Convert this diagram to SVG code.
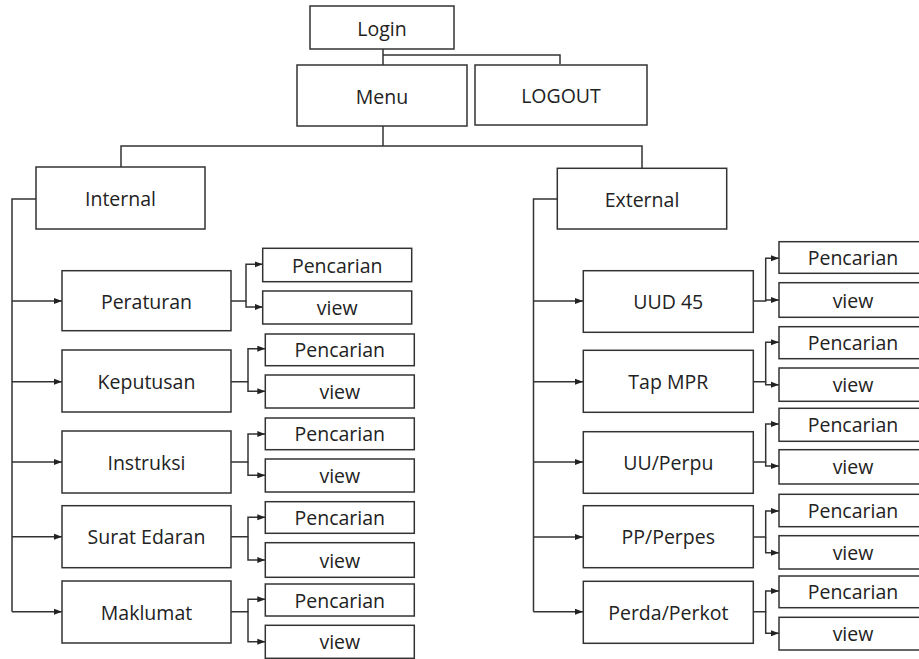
<svg xmlns="http://www.w3.org/2000/svg" width="919" height="659" viewBox="0 0 919 659">
<style>
rect{fill:#fff;stroke:#333;stroke-width:1.5}
text{font-family:"Open Sans","Liberation Sans",sans-serif;font-size:19.5px;fill:#222;text-anchor:middle;dominant-baseline:central}
.c path{fill:none;stroke:#333;stroke-width:1.5}
.c path.a{marker-end:url(#ah)}
</style>
<defs>
<marker id="ah" viewBox="0 0 8 8" refX="8" refY="4" markerWidth="8" markerHeight="8" markerUnits="userSpaceOnUse" orient="auto">
<path d="M0,1 L8,4 L0,7 Z" fill="#222"/>
</marker>
</defs>
<g class="c" id="connectors">
<path d="M383,49 V65"/>
<path d="M383,55 H560 V64"/>
<path d="M383,126 V146"/>
<path d="M121,167 V146 H642 V168"/>
<path d="M36,199 H12 V611.7"/>
<path d="M557,199 H533.5 V611.7"/>
<path class="a" d="M12,301 H62"/>
<path class="a" d="M12,381.7 H62"/>
<path class="a" d="M12,462 H62"/>
<path class="a" d="M12,536.7 H62"/>
<path class="a" d="M12,611.7 H62"/>
<path class="a" d="M533.5,301 H583"/>
<path class="a" d="M533.5,381.7 H583"/>
<path class="a" d="M533.5,462 H583"/>
<path class="a" d="M533.5,537 H583"/>
<path class="a" d="M533.5,611.7 H583"/>
<path class="a" d="M231,301 H246 V264.3 H262.7"/>
<path class="a" d="M246,301 V307 H262.7"/>
<path class="a" d="M231,381.7 H248 V348.7 H265.3"/>
<path class="a" d="M248,381.7 V391.3 H265.3"/>
<path class="a" d="M231,462 H248 V434 H265.3"/>
<path class="a" d="M248,462 V475.3 H265.3"/>
<path class="a" d="M231,536.7 H248 V517.3 H265.3"/>
<path class="a" d="M248,536.7 V560 H265.3"/>
<path class="a" d="M231,611.7 H248 V599.3 H265.3"/>
<path class="a" d="M248,611.7 V641.7 H265.3"/>
<path class="a" d="M753.3,301 H765.7 V258.3 H779"/>
<path class="a" d="M765.7,301 V300 H779"/>
<path class="a" d="M753.3,381.7 H765.7 V342.3 H779"/>
<path class="a" d="M765.7,381.7 V384.7 H779"/>
<path class="a" d="M753.3,462 H765.7 V424 H779"/>
<path class="a" d="M765.7,462 V466 H779"/>
<path class="a" d="M753.3,537 H765.7 V511 H779"/>
<path class="a" d="M765.7,537 V552.7 H779"/>
<path class="a" d="M753.3,611.7 H765.7 V591 H779"/>
<path class="a" d="M765.7,611.7 V633.3 H779"/>
</g>
<g id="login"><rect x="310" y="6" width="144" height="43"/><text x="382" y="28">Login</text></g>
<g id="menu"><rect x="297" y="65" width="170" height="61"/><text x="382" y="96">Menu</text></g>
<g id="logout"><rect x="475" y="65" width="172" height="60"/><text x="561" y="95">LOGOUT</text></g>
<g id="internal"><rect x="36" y="167" width="169" height="62"/><text x="120.5" y="198">Internal</text></g>
<g id="external"><rect x="557.3" y="168.3" width="169.4" height="60.7"/><text x="642" y="199">External</text></g>

<g id="peraturan"><rect x="62" y="270.7" width="169" height="60"/><text x="146.5" y="301">Peraturan</text></g>
<g id="keputusan"><rect x="62" y="350" width="169" height="62"/><text x="146.5" y="381">Keputusan</text></g>
<g id="instruksi"><rect x="62" y="431" width="169" height="62"/><text x="146.5" y="462">Instruksi</text></g>
<g id="surat-edaran"><rect x="62" y="505.7" width="169" height="62"/><text x="146.5" y="536.7">Surat Edaran</text></g>
<g id="maklumat"><rect x="62" y="581" width="169" height="62"/><text x="146.5" y="612">Maklumat</text></g>

<g id="peraturan-pencarian"><rect x="262.7" y="248.3" width="149" height="33.4"/><text x="337.2" y="265">Pencarian</text></g>
<g id="peraturan-view"><rect x="262.7" y="291" width="149" height="33"/><text x="337.2" y="307.5">view</text></g>
<g id="keputusan-pencarian"><rect x="265.3" y="334" width="149" height="31.7"/><text x="339.8" y="349.8">Pencarian</text></g>
<g id="keputusan-view"><rect x="265.3" y="375" width="149" height="33"/><text x="339.8" y="391.5">view</text></g>
<g id="instruksi-pencarian"><rect x="265.3" y="418" width="149" height="31.7"/><text x="339.8" y="433.8">Pencarian</text></g>
<g id="instruksi-view"><rect x="265.3" y="459" width="149" height="33"/><text x="339.8" y="475.5">view</text></g>
<g id="surat-edaran-pencarian"><rect x="265.3" y="501.7" width="149" height="31.6"/><text x="339.8" y="517.5">Pencarian</text></g>
<g id="surat-edaran-view"><rect x="265.3" y="542.7" width="149" height="34.6"/><text x="339.8" y="560">view</text></g>
<g id="maklumat-pencarian"><rect x="265.3" y="584" width="149" height="32"/><text x="339.8" y="600">Pencarian</text></g>
<g id="maklumat-view"><rect x="265.3" y="625.3" width="149" height="33"/><text x="339.8" y="641.8">view</text></g>

<g id="uud45"><rect x="583.3" y="270.7" width="170" height="61.6"/><text x="668.3" y="301.5">UUD 45</text></g>
<g id="tap-mpr"><rect x="583.3" y="350.3" width="170" height="62"/><text x="668.3" y="381.3">Tap MPR</text></g>
<g id="uu-perpu"><rect x="583.3" y="431.7" width="170" height="61.6"/><text x="668.3" y="462.5">UU/Perpu</text></g>
<g id="pp-perpes"><rect x="583.3" y="505.7" width="170" height="62"/><text x="668.3" y="536.7">PP/Perpes</text></g>
<g id="perda-perkot"><rect x="583.3" y="581.3" width="170" height="62"/><text x="668.3" y="612.3">Perda/Perkot</text></g>

<g id="uud45-pencarian"><rect x="779" y="241.7" width="148" height="31.6"/><text x="853" y="257.5">Pencarian</text></g>
<g id="uud45-view"><rect x="779" y="282.7" width="148" height="34.6"/><text x="853" y="300">view</text></g>
<g id="tap-mpr-pencarian"><rect x="779" y="326.7" width="148" height="32"/><text x="853" y="342.7">Pencarian</text></g>
<g id="tap-mpr-view"><rect x="779" y="368" width="148" height="33.3"/><text x="853" y="384.7">view</text></g>
<g id="uu-perpu-pencarian"><rect x="779" y="408.3" width="148" height="33"/><text x="853" y="424.8">Pencarian</text></g>
<g id="uu-perpu-view"><rect x="779" y="449.7" width="148" height="34.3"/><text x="853" y="466.8">view</text></g>
<g id="pp-perpes-pencarian"><rect x="779" y="494.3" width="148" height="32.4"/><text x="853" y="510.5">Pencarian</text></g>
<g id="pp-perpes-view"><rect x="779" y="535.7" width="148" height="33.3"/><text x="853" y="552.3">view</text></g>
<g id="perda-perkot-pencarian"><rect x="779" y="576" width="148" height="31.7"/><text x="853" y="591.8">Pencarian</text></g>
<g id="perda-perkot-view"><rect x="779" y="617.3" width="148" height="32.7"/><text x="853" y="633.6">view</text></g>
</svg>
